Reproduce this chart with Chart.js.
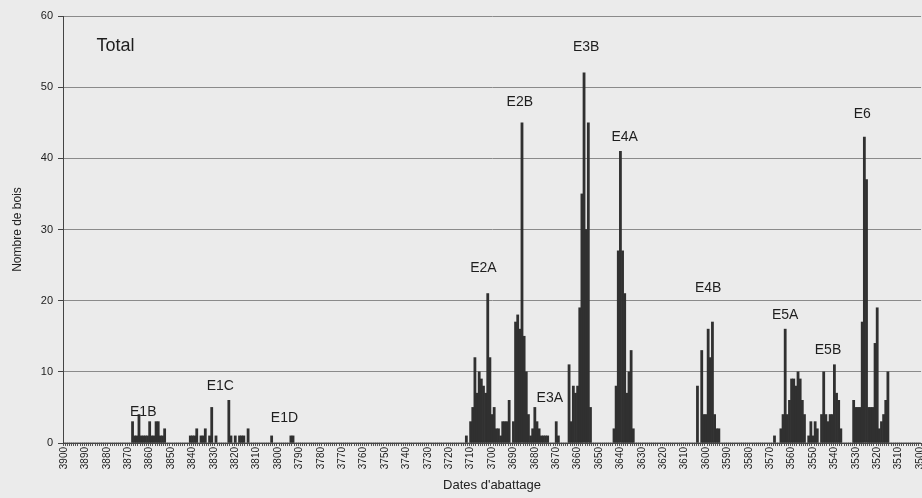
<!DOCTYPE html>
<html>
  <head>
    <meta charset="utf-8" />
    <title>Total - dates d'abattage</title>
    <script src="https://cdn.jsdelivr.net/npm/chart.js@4.4.1/dist/chart.umd.min.js"></script>
    <style>
      html, body { margin: 0; padding: 0; background: #ebebeb; overflow: hidden; }
      #wrap { width: 933px; height: 498px; }
    </style>
  </head>
  <body>
    <div id="wrap"><canvas id="myChart"></canvas></div>
    <script>
      // categories: one bar per year, 3900 down to 3500
      const firstYear = 3900;
      const lastYear = 3500;

      // runs of consecutive years (start year, counts going down in time)
      const runStarts = [3868, 3841, 3823, 3803, 3794, 3712, 3670, 3664, 3643, 3604, 3568, 3565, 3531];
      const runCounts = [
        [3, 1, 1, 4, 1, 1, 1, 1, 3, 1, 1, 3, 3, 1, 1, 2],
        [1, 1, 1, 2, 0, 1, 1, 2, 0, 1, 5, 0, 1],
        [6, 1, 0, 1, 0, 1, 1, 1, 0, 2],
        [1],
        [1, 1],
        [1, 0, 3, 5, 12, 7, 10, 9, 8, 7, 21, 12, 4, 5, 2, 2, 1, 3, 3, 3, 6, 0, 3, 17, 18, 16, 45, 15, 10, 4, 1, 2, 5, 3, 2, 1, 1, 1, 1],
        [3, 1],
        [11, 3, 8, 7, 8, 19, 35, 52, 30, 45, 5],
        [2, 8, 27, 41, 27, 21, 7, 10, 13, 2],
        [8, 0, 13, 4, 4, 16, 12, 17, 4, 2, 2],
        [1],
        [2, 4, 16, 4, 6, 9, 9, 8, 10, 9, 6, 4, 0, 1, 3, 1, 3, 2, 0, 4, 10, 4, 3, 4, 4, 11, 7, 6, 2],
        [6, 5, 5, 5, 17, 43, 37, 5, 5, 5, 14, 19, 2, 3, 4, 6, 10],
      ];

      // group labels (text, year, height)
      const groupNames = ["E1B", "E1C", "E1D", "E2A", "E2B", "E3A", "E3B", "E4A", "E4B", "E5A", "E5B", "E6"];
      const groupYears = [3863, 3827, 3797, 3704, 3687, 3673, 3656, 3638, 3599, 3563, 3543, 3527];
      const groupValues = [4.4, 8.0, 3.5, 24.6, 47.9, 6.3, 55.6, 43.0, 21.8, 18.0, 13.1, 46.2];

      const yTicks = [0, 10, 20, 30, 40, 50, 60];

      const years = [];
      for (let y = firstYear; y >= lastYear; y--) years.push(y);
      const counts = years.map(() => 0);
      runStarts.forEach((start, r) => {
        runCounts[r].forEach((c, k) => {
          counts[firstYear - (start - k)] = c;
        });
      });

      const font = "'Liberation Sans', Arial, sans-serif";

      const groupLabels = {
        id: "groupLabels",
        afterDatasetsDraw(chart) {
          const { ctx, scales } = chart;
          ctx.save();
          ctx.fillStyle = "#1e1e1e";
          ctx.textAlign = "center";
          ctx.textBaseline = "middle";
          ctx.font = "14px " + font;
          groupNames.forEach((name, i) => {
            const x = scales.x.getPixelForValue(years.indexOf(groupYears[i]));
            const y = scales.y.getPixelForValue(groupValues[i]);
            ctx.fillText(name, x, y);
          });
          ctx.font = "18px " + font;
          ctx.fillText("Total", scales.x.getPixelForValue(years.indexOf(3876)), scales.y.getPixelForValue(55.8));
          ctx.restore();
        },
      };

      const data = {
        labels: years.map(String),
        datasets: [
          {
            data: counts,
            backgroundColor: "#303030",
            barPercentage: 1,
            categoryPercentage: 1,
            borderWidth: 0,
          },
        ],
      };

      const config = {
        type: "bar",
        data: data,
        plugins: [groupLabels],
        options: {
          responsive: true,
          maintainAspectRatio: false,
          animation: false,
          layout: { padding: { top: 16, left: 0, right: 0, bottom: 0 } },
          plugins: {
            legend: { display: false },
            tooltip: { enabled: false },
          },
          scales: {
            x: {
              afterFit: (s) => { s.height = 55; },
              grid: { drawOnChartArea: false, tickLength: 3, color: "#555" },
              border: { color: "#444" },
              ticks: {
                autoSkip: false,
                maxRotation: 90,
                minRotation: 90,
                padding: 1,
                color: "#222",
                font: { family: font, size: 10 },
                callback: (v, i) => (years[i] % 10 === 0 ? String(years[i]) : ""),
              },
              title: {
                display: true,
                text: "Dates d'abattage",
                color: "#222",
                font: { family: font, size: 13 },
                padding: { top: 0, bottom: 5 },
              },
            },
            y: {
              min: 0,
              max: 60,
              afterFit: (s) => { s.width = 63; },
              afterBuildTicks: (s) => { s.ticks = yTicks.map((v) => ({ value: v })); },
              grid: { color: "#8a8a8a", tickLength: 5, tickColor: "#444" },
              border: { color: "#444" },
              ticks: {
                padding: 5,
                color: "#222",
                font: { family: font, size: 11 },
              },
              title: {
                display: true,
                text: "Nombre de bois",
                color: "#222",
                font: { family: font, size: 12 },
                padding: { top: 10, bottom: 0 },
              },
            },
          },
        },
      };

      const ctx = document.getElementById("myChart");
      const myChart = new Chart(ctx, config);
    </script>
  </body>
</html>
